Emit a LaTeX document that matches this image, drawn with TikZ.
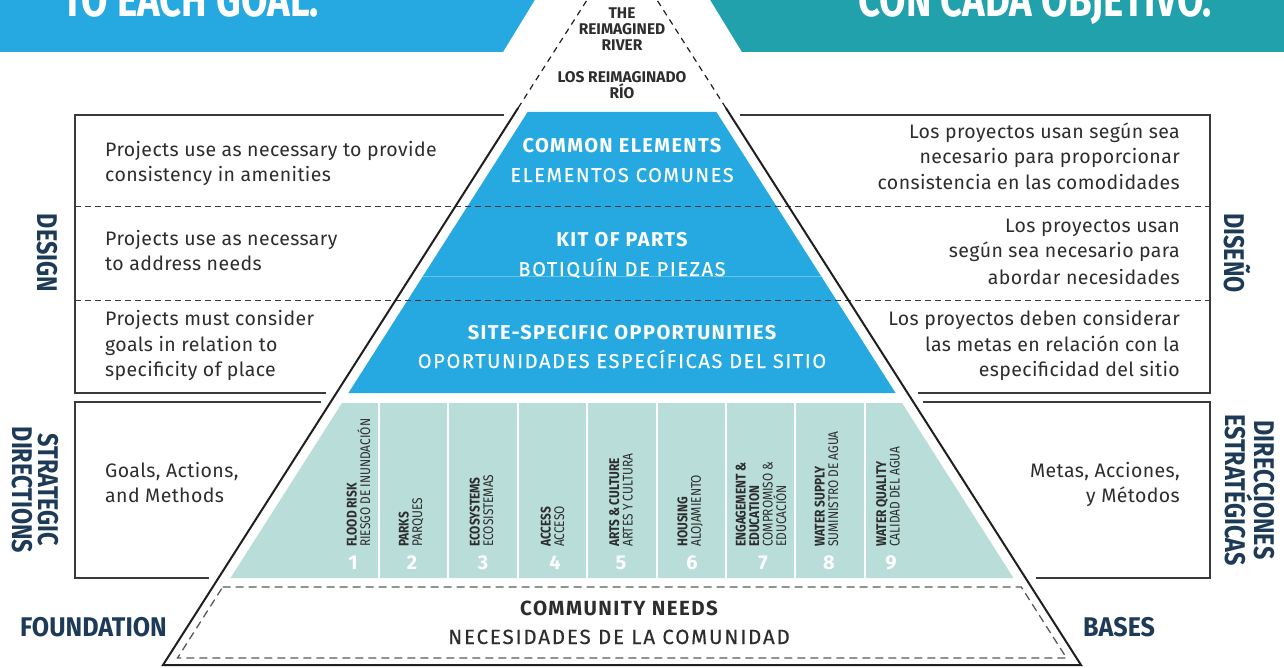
\documentclass[tikz,border=0pt]{standalone}
\usepackage{fontspec}
\setmainfont{Fira Sans}
\newfontfamily\bodyf{Fira Sans}[LetterSpace=2]
\newfontfamily\condf{Fira Sans}[FakeStretch=0.82]
\newfontfamily\basef{Fira Sans}[FakeStretch=0.93]
\newfontfamily\bannerf{Fira Sans}[FakeStretch=0.8]
\newfontfamily\colf{Fira Sans}[FakeStretch=0.85]
\newfontfamily\riverf{Fira Sans}
\newfontfamily\headf{Fira Sans}[LetterSpace=7]
\newfontfamily\headrf{Fira Sans}[LetterSpace=8,FakeBold=0.4]
\newfontfamily\commf{Fira Sans}[LetterSpace=9,FakeBold=0.4]
\definecolor{skyblue}{HTML}{25A9E0}
\definecolor{tealbar}{HTML}{20A1AC}
\definecolor{paleteal}{HTML}{B9DDD8}
\definecolor{navy}{HTML}{1D3A57}
\definecolor{ink}{HTML}{2D2D2D}
\definecolor{rulec}{HTML}{3A3A3A}
\tikzset{
  body/.style={font=\bodyf\fontsize{19.5}{25.5}\selectfont, text=ink, inner sep=0},
  sidelab/.style={font=\condf\bfseries\fontsize{28.5}{26}\selectfont, text=navy, rotate=-90, align=center, inner sep=0},
  baselab/.style={font=\basef\bfseries\fontsize{27}{27}\selectfont, text=navy, inner sep=0},
  colt/.style={font=\colf\fontsize{14}{13.5}\selectfont, text=ink, rotate=90, anchor=west, align=left, inner sep=0},
  num/.style={font=\bfseries\fontsize{20}{20}\selectfont, text=white, inner sep=0},
  headb/.style={font=\headf\bfseries\fontsize{20}{20}\selectfont, text=white, inner sep=0, anchor=base},
  headr/.style={font=\headrf\fontsize{20}{20}\selectfont, text=white, inner sep=0, anchor=base},
  river/.style={font=\riverf\bfseries\fontsize{15.5}{16}\selectfont, text=ink, inner sep=0, anchor=base},
  banner/.style={font=\bannerf\bfseries\fontsize{48}{48}\selectfont, text=white, inner sep=0, anchor=base west},
  boxline/.style={draw=rulec, line width=1.3pt},
  divider/.style={draw=rulec, line width=1pt, dash pattern=on 6pt off 4pt},
  outline/.style={draw=black!88, line width=2pt, line join=miter},
  topdash/.style={draw=black!88, line width=1.2pt, dash pattern=on 6pt off 5pt},
  founddash/.style={draw=black!65, line width=1.3pt, dash pattern=on 8pt off 5pt}
}
\begin{document}
\begin{tikzpicture}[x=1pt,y=-1pt]
\useasboundingbox (0,0) rectangle (1284,668);
% banners
\fill[skyblue] (0,-2) -- (536,-2) -- (503,52) -- (0,52) -- cycle;
\fill[tealbar] (709,-2) -- (1286,-2) -- (1286,52) -- (742,52) -- cycle;
\node[banner] (bannerL) at (62,17) {TO EACH GOAL.};
\node[banner] (bannerR) at (858,17) {CON CADA OBJETIVO.};
% blue design section
\fill[skyblue] (527.6,112) -- (716.4,112) -- (895.6,393) -- (348.4,393) -- cycle;
\draw[white, opacity=0.3, line width=0.8pt] (423,276) -- (821,276);
% teal strategic section
\fill[paleteal] (342,403) -- (902,403) -- (1013.5,578) -- (230.5,578) -- cycle;
\foreach \x in {379,448.4,517.8,587.2,656.6,726,795.4,864.8}
  \draw[white, line width=2pt] (\x,403) -- (\x,578);
% dashed dividers
\draw[divider] (75,207) -- (1210,207);
\draw[divider] (75,300) -- (1210,300);
% outline of pyramid
\draw[outline] (518.1,108) -- (163,665) -- (1081,665) -- (725.9,108);
\draw[topdash] (518.1,108) -- (590.2,-5);
\draw[topdash] (725.9,108) -- (653.8,-5);
% side boxes
\draw[boxline] (503.7,115) -- (75,115) -- (75,393) -- (326.4,393);
\draw[boxline] (740.3,115) -- (1210,115) -- (1210,393) -- (917.6,393);
\draw[boxline] (320.7,402) -- (75,402) -- (75,578) -- (208.5,578);
\draw[boxline] (923.3,402) -- (1210,402) -- (1210,578) -- (1035.5,578);
% foundation dashed trapezoid
\draw[founddash] (222.7,587) -- (1021.3,587) -- (1066.5,658) -- (177.5,658) -- cycle;
% top texts
\node[river] (the) at (622,19) {THE};
\node[river] (reim) at (622,35) {REIMAGINED};
\node[river] (river) at (622,51) {RIVER};
\node[river] (los) at (622,83) {LOS REIMAGINADO};
\node[river] (rio) at (622,99) {RÍO};
% pyramid headings
\node[headb] (ce) at (622,153) {COMMON ELEMENTS};
\node[headr] (ec) at (622,182) {ELEMENTOS COMUNES};
\node[headb] (kp) at (622,247) {KIT OF PARTS};
\node[headr] (bp) at (622,276) {BOTIQUÍN DE PIEZAS};
\node[headb] (ss) at (622,339) {SITE-SPECIFIC OPPORTUNITIES};
\node[headr] (oe) at (622,368) {OPORTUNIDADES ESPECÍFICAS DEL SITIO};
% column texts
\foreach \cx/\txt [count=\i] in {
  358.5/{{\bfseries FLOOD RISK}\\RIESGO DE INUNDACIÓN},
  411/{{\bfseries PARKS}\\PARQUES},
  481.5/{{\bfseries ECOSYSTEMS}\\ECOSISTEMAS},
  552.5/{{\bfseries ACCESS}\\ACCESO},
  621/{{\bfseries ARTS \& CULTURE}\\ARTES Y CULTURA},
  690/{{\bfseries HOUSING}\\ALOJAMIENTO},
  761/{{\bfseries ENGAGEMENT \&}\\{\bfseries EDUCATION}\\COMPROMISO \&\\EDUCACIÓN},
  826.5/{{\bfseries WATER SUPPLY}\\SUMINISTRO DE AGUA},
  888/{{\bfseries WATER QUALITY}\\CALIDAD DEL AGUA}}
  \node[colt] (col\i) at (\cx,547) {\txt};
\foreach \nx [count=\i] in {353,412,483,555,621,692,763,829,891}
  \node[num] (n\i) at (\nx,563) {\i};
% foundation texts
\node[font=\headf\bfseries\fontsize{20.5}{20}\selectfont, text=ink, inner sep=0, anchor=base] (cn) at (619,615) {COMMUNITY NEEDS};
\node[font=\commf\fontsize{20.5}{20}\selectfont, text=ink, inner sep=0, anchor=base] (nc) at (619,644) {NECESIDADES DE LA COMUNIDAD};
\node[baselab, anchor=base west] (found) at (20,636) {FOUNDATION};
\node[baselab, anchor=base west] (bases) at (1083,636) {BASES};
% side labels
\node[sidelab] (design) at (47,253) {DESIGN};
\node[sidelab] (strat) at (35,490) {STRATEGIC\\DIRECTIONS};
\node[sidelab] (diseno) at (1237,253) {DISEÑO};
\node[sidelab] (direc) at (1250,490) {DIRECCIONES\\ESTRATÉGICAS};
% left body texts
\foreach \yy/\tt [count=\i] in {157/Projects use as necessary to provide, 182/consistency in amenities,
  246/Projects use as necessary, 270/to address needs,
  325/Projects must consider, 351/goals in relation to, 376/specificity of place,
  477/{Goals, Actions,}, 502/and Methods}
  \node[body, anchor=base west] (l\i) at (105,\yy) {\tt};
% right body texts
\foreach \yy/\tt [count=\i] in {139/Los proyectos usan según sea, 164/necesario para proporcionar, 190/consistencia en las comodidades,
  233/Los proyectos usan, 258/según sea necesario para, 284/abordar necesidades,
  325/Los proyectos deben considerar, 351/las metas en relación con la, 376/especificidad del sitio,
  477/{Metas, Acciones,}, 502/y Métodos}
  \node[body, anchor=base east] (r\i) at (1180,\yy) {\tt};
\end{tikzpicture}
\end{document}
